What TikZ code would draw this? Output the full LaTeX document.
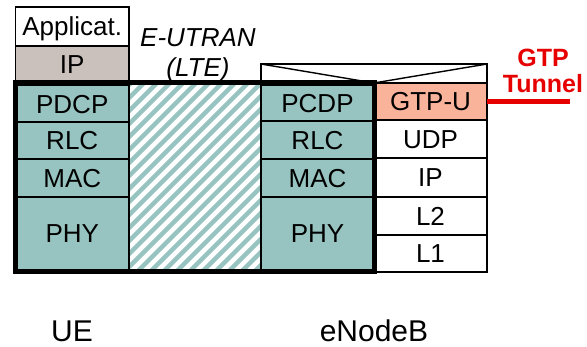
\documentclass[tikz,border=0pt]{standalone}
\usepackage{fontspec}
\setmainfont{Liberation Sans}
\definecolor{layer}{HTML}{97C4C0}
\definecolor{ipgray}{HTML}{CBC1BC}
\definecolor{gtpfill}{HTML}{F9B39B}
\definecolor{tunred}{HTML}{E60000}
\tikzset{
  box/.style={draw=black, line width=1.4pt, anchor=north west, inner sep=0pt,
    outer sep=0pt, font=\fontsize{26}{28}\selectfont, text height=18.6pt,
    text depth=0pt},
  lbl/.style={anchor=base, inner sep=0pt, font=\fontsize{26}{28}\selectfont},
  red lbl/.style={anchor=base, inner sep=0pt, text=tunred,
    font=\fontsize{25}{27}\selectfont\bfseries},
  frame/.style={draw=black, line width=5pt},
  hatch/.style={draw=layer, line width=4.5pt},
  tunnel/.style={draw=tunred, line width=5pt},
}
\begin{document}
\begin{tikzpicture}[x=1pt,y=-1pt]
\useasboundingbox (0,0) rectangle (587,347);

% UE protocol stack
\node[box, minimum width=113.5, minimum height=39] (ueapp) at (15.5,7) {Applicat.};
\node[box, fill=ipgray, minimum width=113.5, minimum height=37] (ueip) at (15.5,46) {IP};
\node[box, fill=layer, minimum width=113.5, minimum height=36.5] (uepdcp) at (15.5,85.5) {PDCP};
\node[box, fill=layer, minimum width=113.5, minimum height=37] (uerlc) at (15.5,122) {RLC};
\node[box, fill=layer, minimum width=113.5, minimum height=38] (uemac) at (15.5,159) {MAC};
\node[box, fill=layer, minimum width=113.5, minimum height=72.5] (uephy) at (15.5,197) {PHY};

% radio interface (hatched)
\node[box, fill=white, minimum width=132, minimum height=189] (air) at (129,83) {};
\begin{scope}
  \clip (air.north west) rectangle (air.south east);
  \foreach \i in {-200,-187,...,150}
    \draw[hatch] (129+\i,272) -- (129+\i+189,83);
\end{scope}
\draw[line width=1.4pt] (air.north west) rectangle (air.south east);

% eNodeB radio side
\node[box, fill=layer, minimum width=113, minimum height=35.5] (enpdcp) at (261,85.5) {PCDP};
\node[box, fill=layer, minimum width=113, minimum height=38] (enrlc) at (261,121) {RLC};
\node[box, fill=layer, minimum width=113, minimum height=38] (enmac) at (261,159) {MAC};
\node[box, fill=layer, minimum width=113, minimum height=72.5] (enphy) at (261,197) {PHY};

% eNodeB network side
\node[box, fill=gtpfill, minimum width=113, minimum height=37] (gtpu) at (374,83) {GTP-U};
\node[box, fill=white, minimum width=113, minimum height=38] (udp) at (374,120) {UDP};
\node[box, fill=white, minimum width=113, minimum height=39] (enip) at (374,158) {IP};
\node[box, fill=white, minimum width=113, minimum height=38] (l2) at (374,197) {L2};
\node[box, fill=white, minimum width=113, minimum height=37] (l1) at (374,235) {L1};

% relay header above the eNodeB stack
\node[box, fill=white, minimum width=226, minimum height=19] (relay) at (261,64) {};
\draw[line width=1.4pt] (relay.north west) -- (relay.south) -- (relay.north east);

% heavy outline around the radio path
\draw[frame] (15.5,83) rectangle (374,272);

% labels
\node[lbl, font=\fontsize{26}{28}\selectfont\itshape] (eutran) at (198,47) {E-UTRAN};
\node[lbl, font=\fontsize{26}{28}\selectfont\itshape] (lte) at (198,77) {(LTE)};
\node[red lbl] (gtp) at (543,67) {GTP};
\node[red lbl] (tun) at (543,93) {Tunnel};
\coordinate (tunend) at (570,102);
\draw[tunnel] (gtpu.east |- tunend) -- (tunend);

\node[lbl, font=\fontsize{30}{32}\selectfont] (ue) at (72,342) {UE};
\node[lbl, font=\fontsize{30}{32}\selectfont] (enb) at (374,342) {eNodeB};
\end{tikzpicture}
\end{document}
